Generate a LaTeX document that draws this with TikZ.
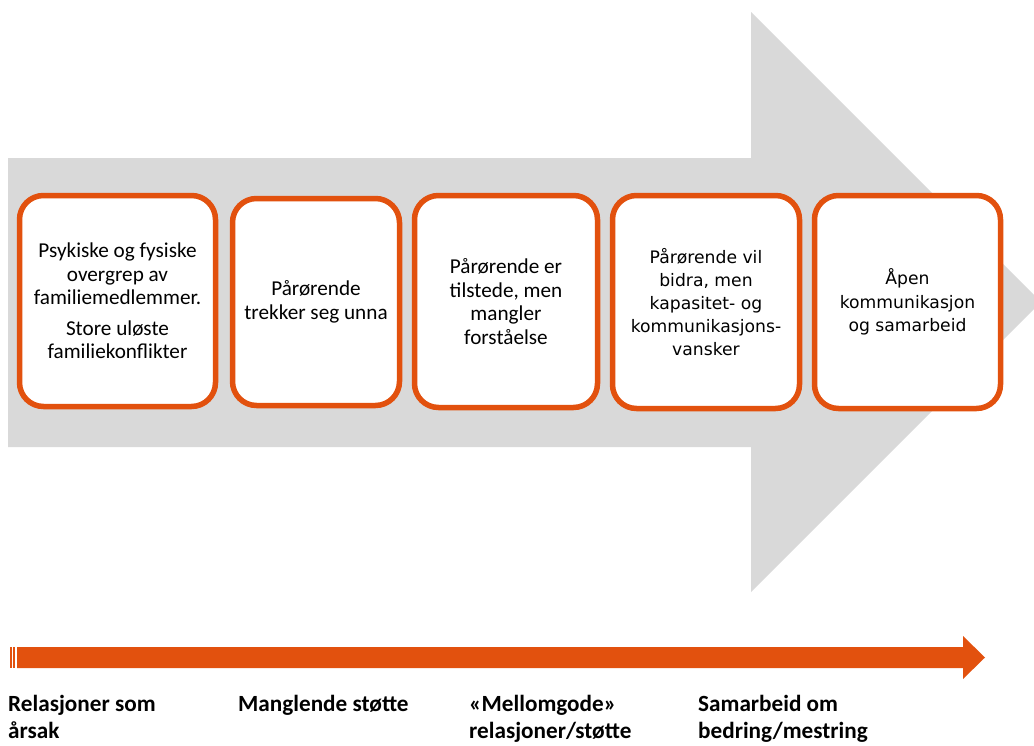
\documentclass[tikz,border=0pt]{standalone}
\usepackage{fontspec}
\setmainfont{Carlito}
\newfontfamily\widefont{DejaVu Sans}
\definecolor{stageorange}{RGB}{226,81,14}
\definecolor{flowgray}{RGB}{217,217,217}
\tikzset{
  stagebox/.style={draw=stageorange, line width=5.5pt, rounded corners=24pt, fill=white,
    align=center, inner sep=0pt, font=\fontsize{21.2}{23.5}\selectfont},
  widebox/.style={stagebox, font=\widefont\fontsize{17.2}{23.2}\selectfont},
  phase/.style={anchor=base west, align=left, inner sep=0pt, font=\fontsize{23.2}{27.5}\selectfont\bfseries},
}
\begin{document}
\begin{tikzpicture}[x=1pt,y=-1pt]
    \useasboundingbox (0,0) rectangle (1034,745);
    % big grey arrow behind the stages
    \fill[flowgray] (8,158) -- (751,158) -- (751,12) -- (1041,302) -- (751,592) -- (751,447) -- (8,447) -- cycle;
    \node[stagebox, minimum width=196pt, minimum height=211pt] (s1) at (117.5,301) {Psykiske og fysiske\\overgrep av\\familiemedlemmer.\\[7pt]Store uløste\\familiekonflikter};
    \node[stagebox, minimum width=167pt, minimum height=207pt] (s2) at (316,302) {Pårørende\\trekker seg unna};
    \node[stagebox, minimum width=183pt, minimum height=212pt] (s3) at (506,301.5) {Pårørende er\\tilstede, men\\mangler\\forståelse};
    \node[widebox, minimum width=187pt, minimum height=213pt] (s4) at (706,302) {Pårørende vil\\bidra, men\\kapasitet- og\\kommunikasjons-\\vansker};
    \node[widebox, minimum width=186pt, minimum height=213pt] (s5) at (907.5,302) {Åpen\\kommunikasjon\\og samarbeid};
    % orange scale arrow
    \fill[stageorange] (10,647) rectangle (11.7,668);
    \fill[stageorange] (13,647) rectangle (15.3,668);
    \fill[stageorange] (17,647) -- (963,647) -- (963,636) -- (985,657.5) -- (963,679) -- (963,668) -- (17,668) -- cycle;
    \node[phase] (p1) at (8,738.5) {Relasjoner som\\årsak};
    \node[phase] (p2) at (238,711) {Manglende støtte};
    \node[phase] (p3) at (469,738.5) {«Mellomgode»\\relasjoner/støtte};
    \node[phase] (p4) at (698,738.5) {Samarbeid om\\bedring/mestring};
\end{tikzpicture}
\end{document}
